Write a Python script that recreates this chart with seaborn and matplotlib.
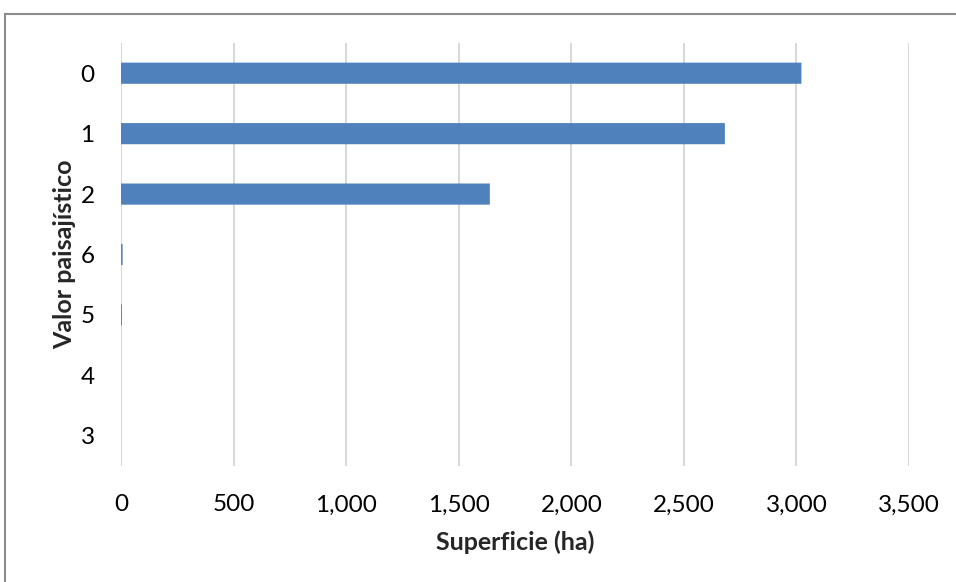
import matplotlib
matplotlib.use("Agg")
import matplotlib.pyplot as plt
from matplotlib.patches import Rectangle
import seaborn as sns
import pandas as pd

# Landscape value classes and their surface area (ha)
categories = ["0", "1", "2", "6", "5", "4", "3"]
superficie = [3022, 2682, 1638, 7, 4, 0, 0]
x_ticks = [0, 500, 1000, 1500, 2000, 2500, 3000, 3500]
x_tick_labels = ["0", "500", "1,000", "1,500", "2,000", "2,500", "3,000", "3,500"]

df = pd.DataFrame({"valor": categories, "superficie": superficie})

sns.set_theme(style="white")
plt.rcParams["font.family"] = ["Lato", "DejaVu Sans"]

fig = plt.figure(figsize=(9.56, 5.82), dpi=100)
ax = fig.add_axes([0.1266, 0.1993, 0.8243, 0.7268])

sns.barplot(data=df, x="superficie", y="valor", order=categories,
            orient="h", color="#4F81BD", saturation=1, width=0.35,
            linewidth=0, ax=ax)
# let very thin bars render with partial-pixel coverage
for bar in ax.patches:
    bar.set_snap(False)

ax.set_xlim(0, 3500)
ax.set_xticks(x_ticks)
ax.set_xticklabels(x_tick_labels)
ax.xaxis.grid(True, color="#D9D9D9", linewidth=1.5)
ax.yaxis.grid(False)
ax.set_axisbelow(True)
for s in ax.spines.values():
    s.set_visible(False)

ax.tick_params(axis="x", length=0, pad=20.5, labelsize=17.5, labelcolor="#000000")
ax.tick_params(axis="y", length=0, pad=19, labelsize=17.5, labelcolor="#000000")

ax.set_xlabel("Superficie (ha)", fontsize=18, fontweight="bold", labelpad=11)
ax.set_ylabel("Valor paisajístico", fontsize=18, fontweight="bold", labelpad=3.5)

# Outer chart-area frame
fig.patches.append(Rectangle((5 / 956, -0.1), 1.2, (582 - 14) / 582 + 0.1,
                             transform=fig.transFigure, fill=False,
                             edgecolor="#8C8C8C", linewidth=1.5))

fig.savefig("out.png", dpi=100)
